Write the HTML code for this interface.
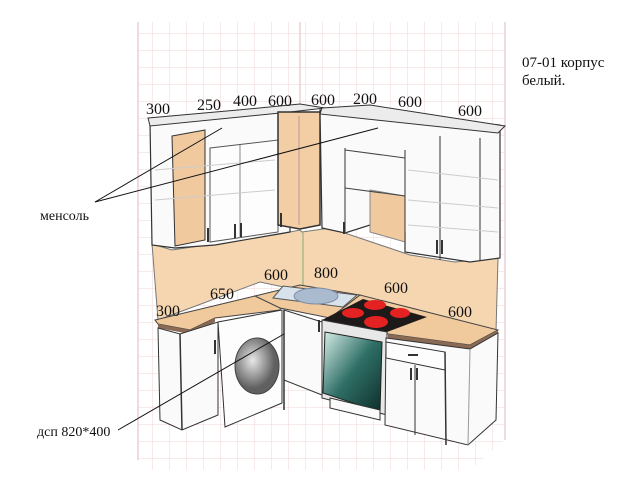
<!DOCTYPE html>
<html><head><meta charset="utf-8"><style>
html,body{margin:0;padding:0;background:#fff;width:640px;height:480px;overflow:hidden}
svg{display:block}
text{font-family:"Liberation Serif","DejaVu Serif",serif;fill:#111}
</style></head><body>
<svg width="640" height="480" viewBox="0 0 640 480" xmlns="http://www.w3.org/2000/svg">
<defs>
<pattern id="g" width="17" height="17" patternUnits="userSpaceOnUse"><path d="M17 0V17H0" fill="none" stroke="#f0d4d6" stroke-width="1"/></pattern>
<linearGradient id="ov" x1="0" y1="0" x2="1" y2="1"><stop offset="0" stop-color="#d8efe9"/><stop offset=".5" stop-color="#2f6f66"/><stop offset="1" stop-color="#0d2e2a"/></linearGradient>
<radialGradient id="dr" cx=".4" cy=".4"><stop offset="0" stop-color="#e8e8e8"/><stop offset="1" stop-color="#606060"/></radialGradient>
</defs>
<polygon points="138,22 505,22 505,440 470,470 138,470" fill="url(#g)"/>
<line x1="300" y1="22" x2="300" y2="240" stroke="#e2b8bc"/>
<line x1="138" y1="22" x2="138" y2="460" stroke="#e2b8bc"/>
<line x1="505" y1="22" x2="505" y2="440" stroke="#e2b8bc"/>
<!-- backsplash -->
<polygon points="152,244 172,250 280,234 300,230 302,232 330,228 410,255 455,262 498,258 496,332 430,318 260,282 158,320" fill="#f5d6b0" stroke="#777" stroke-width="1"/>
<line x1="303" y1="232" x2="303" y2="290" stroke="#8a7" stroke-width="1"/>
<!-- upper left cabinets -->
<polygon points="150,122 290,106 290,232 215,245 175,248 152,245" fill="#fafafa" stroke="#333" stroke-width="1.2"/>
<polygon points="148,118 238,110 300,104 325,108 290,112 150,126" fill="#ececec" stroke="#333"/>
<polygon points="172,136 205,130 205,240 175,246" fill="#f1c99f" stroke="#333"/>
<polygon points="210,148 278,140 278,232 210,242" fill="#fdfdfd" stroke="#555"/>
<line x1="240" y1="145" x2="240" y2="238" stroke="#888"/>
<rect x="207" y="228" width="2" height="14" fill="#333"/><rect x="234" y="224" width="2" height="14" fill="#333"/><rect x="240" y="223" width="2" height="14" fill="#333"/>
<!-- corner cabinet -->
<polygon points="278,112 320,112 320,225 300,229 278,225" fill="#f3cda4" stroke="#333" stroke-width="1.5"/>
<line x1="299" y1="116" x2="299" y2="225" stroke="#b99"/>
<rect x="280" y="213" width="2" height="14" fill="#333"/>
<!-- upper right cabinets -->
<polygon points="320,110 500,125 500,258 470,262 405,252 405,232 370,225 345,233 322,228" fill="#fafafa" stroke="#333" stroke-width="1.2"/>
<polygon points="322,108 370,105 505,126 498,133 320,114" fill="#ececec" stroke="#333"/>
<polygon points="370,190 405,196 405,242 370,232" fill="#f1c99f" stroke="#888"/>
<line x1="345" y1="148" x2="345" y2="232" stroke="#333"/>
<line x1="405" y1="150" x2="405" y2="252" stroke="#333"/>
<line x1="440" y1="136" x2="440" y2="260" stroke="#333"/>
<line x1="480" y1="138" x2="480" y2="260" stroke="#333"/>
<line x1="345" y1="150" x2="405" y2="158" stroke="#444"/>
<line x1="345" y1="188" x2="405" y2="196" stroke="#444"/>
<rect x="343" y="222" width="2" height="12" fill="#333"/><rect x="436" y="240" width="2" height="14" fill="#333"/><rect x="441" y="240" width="2" height="14" fill="#333"/>
<g stroke="#ccc"><line x1="408" y1="170" x2="498" y2="180"/><line x1="408" y1="200" x2="498" y2="208"/><line x1="408" y1="225" x2="498" y2="232"/><line x1="155" y1="170" x2="275" y2="160"/><line x1="155" y1="200" x2="275" y2="190"/></g>
<!-- lower left counter -->
<polygon points="155,320 255,296 285,292 280,310 215,318 190,330 158,324" fill="#f0c99c" stroke="#444"/>
<polygon points="158,324 190,330 215,318 215,322 190,334 158,328" fill="#8a6a55"/>
<!-- lower left cabinet -->
<polygon points="158,328 180,334 218,322 218,415 182,430 160,420" fill="#fafafa" stroke="#333"/>
<line x1="180" y1="334" x2="182" y2="430" stroke="#333" stroke-width="1.5"/>
<rect x="214" y="340" width="2" height="14" fill="#333"/>
<!-- washer -->
<polygon points="218,322 282,310 282,403 225,427" fill="#fdfdfd" stroke="#333"/>
<ellipse cx="257" cy="366" rx="22" ry="28" fill="url(#dr)" stroke="#444"/>
<!-- sink counter -->
<polygon points="255,296 300,285 360,295 330,318 280,308" fill="#f0c99c" stroke="#444"/>
<polygon points="273,298 283,286 357,295 343,307" fill="#d8e2ea" stroke="#555"/>
<ellipse cx="316" cy="296" rx="22" ry="8" fill="#aabbd0" stroke="#7d8ea6"/>
<!-- right counter -->
<polygon points="330,318 360,295 498,330 470,345 388,334" fill="#f0c99c" stroke="#444"/>
<polygon points="388,334 470,345 498,330 498,333 470,349 388,338" fill="#8a6a55"/>
<polygon points="322,320 363,299 427,317 387,332" fill="#1e1a1a"/>
<g fill="#e42222"><ellipse cx="353" cy="313" rx="11" ry="5"/><ellipse cx="375" cy="305" rx="11" ry="5"/><ellipse cx="400" cy="313" rx="10" ry="5"/><ellipse cx="376" cy="322" rx="12" ry="6"/></g>
<!-- cabinet under sink -->
<polygon points="284,310 322,322 322,395 284,380" fill="#fafafa" stroke="#333"/>
<line x1="284" y1="310" x2="284" y2="410" stroke="#333" stroke-width="1.5"/>
<rect x="318" y="320" width="2" height="12" fill="#333"/>
<!-- oven -->
<polygon points="322,320 387,332 387,415 322,398" fill="#e8e8e8" stroke="#333"/>
<polygon points="325,332 382,342 380,412 323,393" fill="url(#ov)" stroke="#222"/>
<polygon points="330,398 380,410 380,420 330,408" fill="#fafafa" stroke="#333"/>
<!-- right lower cabinet -->
<polygon points="386,338 470,349 498,333 496,420 468,445 385,425" fill="#fafafa" stroke="#333"/>
<polygon points="386,342 445,352 445,370 386,358" fill="#fdfdfd" stroke="#333"/>
<rect x="408" y="354" width="10" height="2" fill="#333"/>
<line x1="415" y1="365" x2="415" y2="435" stroke="#333"/>
<line x1="445" y1="352" x2="446" y2="445" stroke="#333" stroke-width="1.5"/>
<line x1="470" y1="349" x2="468" y2="445" stroke="#999"/>
<rect x="410" y="368" width="2" height="12" fill="#333"/><rect x="416" y="368" width="2" height="12" fill="#333"/>
<!-- leader lines -->
<g stroke="#111" stroke-width="1"><line x1="95" y1="202" x2="222" y2="128"/><line x1="95" y1="202" x2="378" y2="128"/><line x1="118" y1="430" x2="284" y2="334"/></g>
<!-- labels -->
<g font-size="16">
<text x="146" y="114">300</text><text x="197" y="110">250</text><text x="233" y="106">400</text><text x="268" y="106">600</text>
<text x="311" y="105">600</text><text x="353" y="104">200</text><text x="398" y="107">600</text><text x="458" y="116">600</text>
<text x="264" y="280">600</text><text x="314" y="278">800</text><text x="210" y="299">650</text><text x="384" y="293">600</text>
<text x="156" y="316">300</text><text x="448" y="317">600</text>
</g>
<g font-size="14"><text x="40" y="220">менсоль</text><text x="37" y="436">дсп 820*400</text>
<text x="522" y="67" font-size="15">07-01 корпус</text><text x="522" y="85" font-size="15">белый.</text></g>
</svg>
</body></html>
